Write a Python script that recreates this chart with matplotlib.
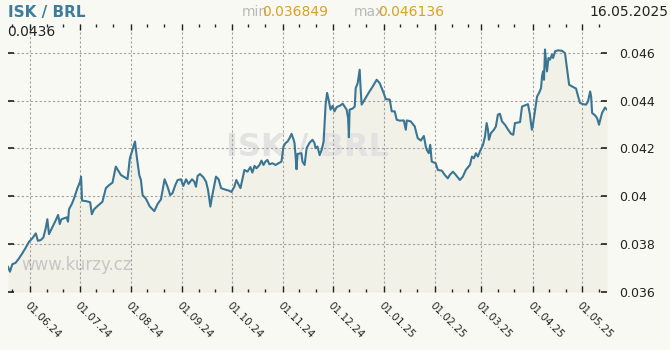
import matplotlib
matplotlib.use('Agg')
import matplotlib.pyplot as plt
import matplotlib.dates as mdates
from matplotlib.ticker import FormatStrFormatter
import numpy as np
import pandas as pd

start_date = '2024-05-16'
# days after start_date
day_offset = [
    2.7, 3.9, 5.3, 7.3, 9.3, 11.3, 13.4, 15.4, 17.4, 19.5, 20.8, 22.5, 24.1, 25.5, 26.5, 27.5,
    29.5, 31.6, 33.0, 34.0, 35.0, 36.6, 38.2, 39.0, 39.6, 41.3, 42.7, 44.7, 46.3, 46.9, 47.5,
    49.8, 52.4, 53.4, 54.8, 56.8, 59.8, 61.9, 63.9, 65.9,
    67.9, 71.0, 75.0, 76.4, 78.0, 79.5, 80.7, 82.1, 83.1, 84.1, 86.1, 88.5, 91.2, 93.2, 95.2,
    96.2, 97.4, 99.2, 100.8, 102.2, 103.9, 105.3, 107.3, 108.7, 110.4, 111.9, 114.0, 115.4,
    116.4, 117.4, 118.8, 120.8, 122.5, 123.7, 125.1, 126.1, 127.5, 128.5, 130.1,
    131.6, 133.6, 136.6, 137.8, 139.6, 140.8, 142.0, 143.3, 144.5, 145.7, 147.5, 149.3, 150.5,
    151.8, 153.0, 154.8, 156.0, 157.2, 158.4, 159.6, 160.8, 162.7, 164.5, 166.3, 168.1, 169.3,
    170.5, 171.8, 173.0, 174.2, 175.4, 176.0, 176.6, 177.2, 177.8, 180.2, 180.8, 182.1, 183.3,
    185.1, 186.9, 188.1, 188.7, 189.9, 191.2, 192.4, 193.6, 194.8, 195.7, 196.6, 197.8, 199.0,
    200.2, 201.5, 203.3, 205.1, 206.3, 207.5, 208.4, 208.9, 209.3, 211.2, 212.4, 213.0, 214.2,
    215.4, 216.0, 216.6, 218.4, 220.8, 223.3, 225.7, 227.5, 229.9, 231.2, 233.6, 234.8, 236.6,
    237.8, 239.6, 242.1, 243.3, 243.9, 246.3, 248.7, 250.5, 252.4, 254.2, 255.4, 256.0, 257.2,
    258.1, 259.0, 261.4, 262.7, 265.1, 266.9, 268.7, 269.9, 271.8, 273.6, 276.0, 277.8, 279.6,
    282.1, 283.3, 284.5, 285.7, 286.9, 288.1, 290.0, 291.2, 292.2, 293.0, 293.6, 294.8, 296.6,
    297.8, 299.0, 300.2, 301.5, 303.3, 305.2, 307.0, 308.3, 309.3, 312.4, 313.6, 315.4, 317.2,
    318.4, 319.0, 319.6, 320.2, 321.5, 322.7, 323.9, 325.1, 325.7, 326.3, 326.9, 327.5, 328.1,
    328.7, 329.6, 330.5, 331.7, 332.4, 333.6, 335.4, 337.8, 339.6, 340.8, 342.1, 343.9, 346.3,
    347.5, 348.7, 350.5, 352.3, 353.5, 354.8, 355.4, 356.0, 357.8, 359.0, 360.2, 360.8, 362.0,
    363.8, 365.0,
]
rate = [
    0.03705, 0.036849, 0.03716, 0.03722, 0.03740, 0.03761, 0.03785, 0.03810, 0.03824, 0.03845,
    0.03814, 0.03817, 0.03828, 0.03866, 0.03904, 0.03842, 0.03870, 0.03900, 0.03922, 0.03884,
    0.03904, 0.03908, 0.03912, 0.03894, 0.03946, 0.03968, 0.03992, 0.04034, 0.04061, 0.04082,
    0.03982, 0.03980, 0.03975, 0.03925, 0.03946, 0.03959, 0.03977, 0.04034, 0.04047, 0.04057,
    0.04124, 0.04089, 0.04072, 0.04159, 0.04194, 0.04229, 0.04159, 0.04089, 0.04068, 0.04005,
    0.03990, 0.03957, 0.03938, 0.03968, 0.03987, 0.04026, 0.04071, 0.04040, 0.04005, 0.04013,
    0.04047, 0.04068, 0.04071, 0.04043, 0.04071, 0.04052, 0.04071, 0.04061, 0.04040, 0.04085,
    0.04093, 0.04080, 0.04061, 0.04026, 0.03957, 0.03998, 0.04047, 0.04082, 0.04071,
    0.04034, 0.04029, 0.04023, 0.04018, 0.04040, 0.04068, 0.04052, 0.04034, 0.04071, 0.04110,
    0.04103, 0.04122, 0.04099, 0.04127, 0.04117, 0.04131, 0.04149, 0.04131, 0.04145, 0.04152,
    0.04134, 0.04138, 0.04131, 0.04138, 0.04145, 0.04208, 0.04222, 0.04229, 0.04243, 0.04261,
    0.04238, 0.04222, 0.04173, 0.04113, 0.04177, 0.04180, 0.04145, 0.04131, 0.04201, 0.04224,
    0.04236, 0.04222, 0.04201, 0.04208, 0.04172, 0.04194, 0.04229, 0.04383, 0.04432, 0.04404,
    0.04362, 0.04378, 0.04355, 0.04373, 0.04378, 0.04387, 0.04375, 0.04362, 0.04327, 0.04247,
    0.04362, 0.04367, 0.04375, 0.04452, 0.04473, 0.04529, 0.04448, 0.04383, 0.04404, 0.04432,
    0.04459, 0.04487, 0.04473, 0.04432, 0.04406, 0.04404, 0.04355, 0.04355, 0.04320, 0.04316,
    0.04317, 0.04278, 0.04317, 0.04313, 0.04292, 0.04243, 0.04233, 0.04252, 0.04208, 0.04194,
    0.04180, 0.04215, 0.04145, 0.04138, 0.04110, 0.04107, 0.04089, 0.04075, 0.04089, 0.04103,
    0.04089, 0.04068, 0.04082, 0.04110, 0.04131, 0.04166, 0.04159, 0.04180, 0.04166, 0.04187,
    0.04215, 0.04250, 0.04306, 0.04278, 0.04236, 0.04264, 0.04278, 0.04292, 0.04341, 0.04345,
    0.04313, 0.04299, 0.04278, 0.04261, 0.04257, 0.04306, 0.04310, 0.04375, 0.04380, 0.04385,
    0.04341, 0.04306, 0.04278, 0.04299, 0.04362, 0.04417, 0.04432, 0.04452, 0.04501, 0.04522,
    0.04487, 0.046136, 0.04564, 0.04522, 0.04578, 0.04571, 0.04592, 0.04578, 0.04606, 0.04610,
    0.04608, 0.04598, 0.04536, 0.04466, 0.04459, 0.04450, 0.04418, 0.04390, 0.04385, 0.04383,
    0.04396, 0.04438, 0.04418, 0.04348, 0.04338, 0.04327, 0.04299, 0.04317, 0.04348, 0.04371,
    0.04362,
]
title = 'ISK / BRL'
last_value = '0.0436'
min_value = '0.036849'
max_value = '0.046136'
end_label = '16.05.2025'
y_ticks = [0.036, 0.038, 0.040, 0.042, 0.044, 0.046]

dates = pd.Timestamp(start_date) + pd.to_timedelta(day_offset, unit='D')

bg = '#f9f9f4'
fig = plt.figure(figsize=(6.7, 3.5), dpi=100, facecolor=bg)
ax = fig.add_axes([8 / 670, 58 / 350, 599 / 670, 268 / 350])
ax.set_facecolor(bg)

ax.fill_between(dates, rate, 0.036, color='#f1f1e7', lw=0, zorder=0.5)
ax.plot(dates, rate, color='#3a7594', lw=1.5, zorder=3)

# watermark
ax.text(0.5, 0.54, title, transform=ax.transAxes, ha='center', va='center',
        fontsize=23, fontweight='bold', color='#e2e2e2', zorder=1)
ax.text(0.022, 0.10, 'www.kurzy.cz', transform=ax.transAxes, ha='left', va='center',
        fontsize=12, color='#c6c6c6', zorder=1)

ax.set_xlim(dates[0], dates[-1])
ax.set_ylim(0.036, 0.0472)
ax.set_yticks(y_ticks)
ax.yaxis.set_major_formatter(FormatStrFormatter('%g'))

ax.xaxis.set_major_locator(mdates.MonthLocator())
ax.xaxis.set_minor_locator(mdates.DayLocator(bymonthday=[11, 21]))
ax.xaxis.set_major_formatter(mdates.DateFormatter('%d.%m.%y'))

# сетка
ax.grid(which='major', color='#a0a0a0', lw=0.8, ls=(0, (2, 2)))
for s in ax.spines.values():
    s.set_visible(False)

ax.tick_params(axis='x', which='both', top=True, bottom=True, direction='in',
               labelsize=7.5, colors='#222222', pad=6)
ax.tick_params(axis='x', which='major', length=4, width=1)
ax.tick_params(axis='x', which='minor', length=2.5, width=1)
ax.tick_params(axis='y', left=True, right=True, labelleft=False, labelright=True,
               direction='in', length=4, width=1.2, labelsize=9, colors='#222222', pad=9)
for lab in ax.get_xticklabels():
    lab.set_rotation(-45)
    lab.set_ha('left')
    lab.set_va('top')
    lab.set_rotation_mode('anchor')

# оформление
fig.text(8 / 670, 1 - 12 / 350, title, ha='left', va='center', fontsize=11,
         fontweight='bold', color='#3f7c9b')
fig.text(7 / 670, 1 - 32 / 350, last_value, ha='left', va='center', fontsize=10, color='#222222')
fig.text(242 / 670, 1 - 12 / 350, 'min', ha='left', va='center', fontsize=10, color='#b8b8b8')
fig.text(262 / 670, 1 - 12 / 350, min_value, ha='left', va='center', fontsize=10, color='#dda020')
fig.text(354 / 670, 1 - 12 / 350, 'max', ha='left', va='center', fontsize=10, color='#b8b8b8')
fig.text(378 / 670, 1 - 12 / 350, max_value, ha='left', va='center', fontsize=10, color='#dda020')
fig.text(668 / 670, 1 - 12 / 350, end_label, ha='right', va='center', fontsize=10, color='#222222')

fig.savefig('out.png', dpi=100, facecolor=bg)
